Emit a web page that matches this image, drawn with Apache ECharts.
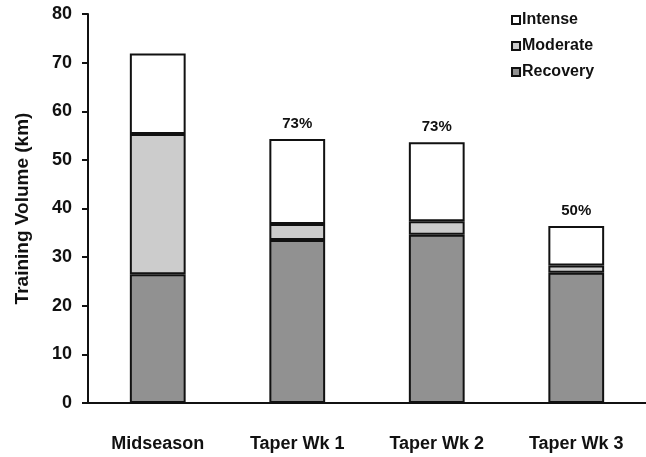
<!DOCTYPE html>
<html>
<head>
<meta charset="utf-8">
<script src="https://cdn.jsdelivr.net/npm/echarts@6/dist/echarts.min.js"></script>
<style>
  html, body { margin: 0; padding: 0; background: #fff; }
  #chart { width: 646px; height: 457px; }
</style>
</head>
<body>
<div id="chart"></div>
<script>
// Weekly training volume split by intensity zone
const categories = ['Midseason', 'Taper Wk 1', 'Taper Wk 2', 'Taper Wk 3'];
const recovery = [26.5, 33.5, 34.6, 26.8];
const moderate = [28.8, 3.3, 2.8, 1.5];
const intense = [16.6, 17.5, 16.2, 8.1];
// Share of midseason volume shown over each taper week
const pctLabels = ['', '73%', '73%', '50%'];
const yTicks = { min: 0, max: 80, interval: 10 };

const FONT = '"Liberation Sans", Arial, sans-serif';
const border = { borderColor: '#111', borderWidth: 2 };

const chart = echarts.init(document.getElementById('chart'));
chart.setOption({
  animation: false,
  backgroundColor: '#fff',
  textStyle: { fontFamily: FONT },
  grid: { left: 88, right: 0, top: 14, bottom: 54, containLabel: false, outerBoundsMode: 'none' },
  legend: {
    orient: 'vertical',
    left: 506,
    top: 7,
    itemWidth: 8,
    itemHeight: 8,
    itemGap: 10,
    icon: 'rect',
    data: ['Intense', 'Moderate', 'Recovery'],
    textStyle: { fontFamily: FONT, fontWeight: 'bold', fontSize: 16, color: '#111', padding: [0, 0, 0, -3] }
  },
  xAxis: {
    type: 'category',
    data: categories,
    axisLine: { lineStyle: { color: '#111', width: 2 } },
    axisTick: { show: false },
    axisLabel: { fontFamily: FONT, fontWeight: 'bold', fontSize: 18, color: '#111', margin: 32 }
  },
  yAxis: {
    type: 'value',
    min: yTicks.min,
    max: yTicks.max,
    interval: yTicks.interval,
    name: 'Training Volume (km)',
    nameLocation: 'middle',
    nameGap: 56,
    nameTextStyle: { fontFamily: FONT, fontWeight: 'bold', fontSize: 19, color: '#111' },
    splitLine: { show: false },
    axisLine: { show: true, lineStyle: { color: '#111', width: 2 } },
    axisTick: { show: true, length: 6, lineStyle: { color: '#111', width: 2 } },
    axisLabel: { fontFamily: FONT, fontWeight: 'bold', fontSize: 18, color: '#111', margin: 16 }
  },
  series: [
    {
      name: 'Recovery', type: 'bar', stack: 'vol', barWidth: '40%',
      itemStyle: Object.assign({ color: '#919191' }, border),
      data: recovery
    },
    {
      name: 'Moderate', type: 'bar', stack: 'vol',
      itemStyle: Object.assign({ color: '#cccccc' }, border),
      data: moderate
    },
    {
      name: 'Intense', type: 'bar', stack: 'vol',
      itemStyle: Object.assign({ color: '#ffffff' }, border),
      label: {
        show: true, position: 'top', distance: 8,
        fontFamily: FONT, fontWeight: 'bold', fontSize: 15, color: '#111',
        formatter: p => pctLabels[p.dataIndex]
      },
      data: intense
    }
  ]
});
</script>
</body>
</html>
